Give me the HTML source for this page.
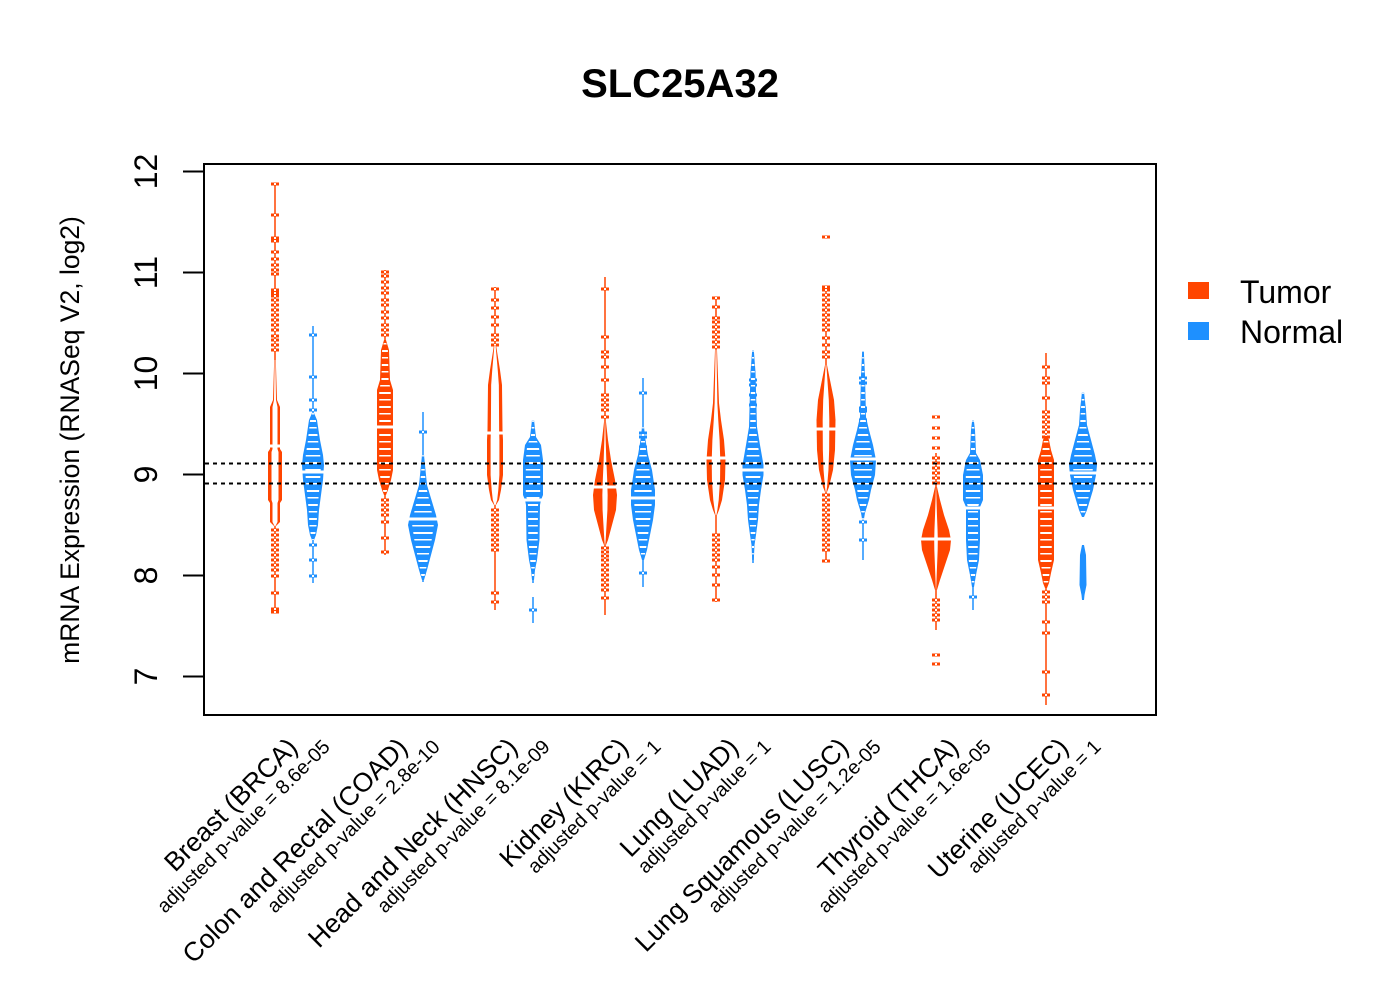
<!DOCTYPE html>
<html><head><meta charset="utf-8"><style>
html,body{margin:0;padding:0;background:#fff;}
svg{display:block;}
text{font-family:"Liberation Sans",Arial,sans-serif;fill:#000;}
</style></head><body>
<svg width="1400" height="1000" viewBox="0 0 1400 1000" xmlns="http://www.w3.org/2000/svg">
<defs>
<pattern id="st" patternUnits="userSpaceOnUse" width="40" height="14">
<rect y="0" width="40" height="2" fill="#fff"/><rect y="7" width="40" height="1.5" fill="#fff"/>
</pattern>
<g id="mo"><rect x="-4" y="-1.5" width="8" height="3" fill="#FF4500"/><rect x="-1" y="-1" width="2" height="2" fill="#fff"/></g>
<g id="mb"><rect x="-4" y="-1.5" width="8" height="3" fill="#1E90FF"/><rect x="-1" y="-1" width="2" height="2" fill="#fff"/></g>
<polygon id="p1" points="274.2,360 273,400 270,407 270,449 268,452 268,500 270,503 270,522 274,526 276,526 280,522 280,503 282,500 282,452 280,449 280,407 277,400 275.8,360"/>
<polygon id="p2" points="312,413 309,420 306,440 303,455 302,465 303,480 305,495 307,510 308,525 310,535 312,540 314,540 316,535 318,525 319,510 321,495 323,480 324,465 323,455 320,440 317,420 314,413"/>
<polygon id="p3" points="384,340 381,350 380,380 377,390 377,470 379,480 382,490 384,495 386,495 388,490 391,480 393,470 393,390 390,380 389,350 386,340"/>
<polygon id="p4" points="422,455 420.5,470 419,485 416,495 413,505 410,515 408,525 411,540 415,555 419,570 422,580 424,580 427,570 431,555 435,540 438,525 436,515 433,505 430,495 427,485 425.5,470 424,455"/>
<polygon id="p5" points="494,345 490,370 488,385 487.5,430 487,440 487,475 489,490 491,500 494,505 496,505 499,500 501,490 503,475 503,440 502.5,430 502,385 500,370 496,345"/>
<polygon id="p6" points="532,420 530,437 525,445 523,460 523,495 525,500 526,505 526.5,540 529,560 531,570 532,580 534,580 535,570 537,560 539.5,540 540,505 541,500 543,495 543,460 541,445 536,437 534,420"/>
<polygon id="p7" points="604,422 602,440 599,460 595,480 593,495 594,510 598,525 602,540 604,545 606,545 608,540 612,525 616,510 617,495 615,480 611,460 608,440 606,422"/>
<polygon id="p8" points="642,427 640.5,440 638,455 634,470 631,490 631,505 633,520 636,535 639,550 642,560 644,560 647,550 650,535 653,520 655,505 655,490 652,470 648,455 645.5,440 644,427"/>
<polygon id="p9" points="715,350 713,403 711,420 708,440 706.5,460 707,480 710,500 713,510 715,515 717,515 719,510 722,500 725,480 725.5,460 724,440 721,420 719,403 717,350"/>
<polygon id="p10" points="752.2,350 750.5,372 749,427 746,445 742.5,465 742.5,475 745,490 747,505 748,520 750,535 751.5,545 752.2,560 753.8,560 754.5,545 756,535 758,520 759,505 761,490 763.5,475 763.5,465 760,445 757,427 755.5,372 753.8,350"/>
<polygon id="p11" points="825,365 821,385 818,400 816.5,420 817,450 819,470 823,487 825,492 827,492 829,487 833,470 835,450 835.5,420 834,400 831,385 827,365"/>
<polygon id="p12" points="862.2,351 861,375 860,417 857,430 853,445 850,460 851,475 855,490 857,500 861,513 862.2,520 863.8,520 865,513 869,500 871,490 875,475 876,460 873,445 869,430 866,417 865,375 863.8,351"/>
<polygon id="p13" points="935,487 932,500 928,515 923,530 921,540 922,550 927,565 932,580 935,590 937,590 940,580 945,565 950,550 951,540 949,530 944,515 940,500 937,487"/>
<polygon id="p14" points="972.2,420 971,430 970,453 966,460 963,475 963,500 966,507 966,540 967,560 970,575 972,587 974,587 976,575 979,560 980,540 980,507 983,500 983,475 980,460 976,453 975,430 973.8,420"/>
<polygon id="p15" points="1045,435 1043,440 1041,450 1038,460 1038,560 1041,573 1043,583 1045,588 1047,588 1049,583 1051,573 1054,560 1054,460 1051,450 1049,440 1047,435"/>
<polygon id="p16" points="1082,392 1080,410 1079,425 1075,440 1071,455 1069,465 1070,475 1073,490 1076,500 1079,510 1082,517 1084,517 1087,510 1090,500 1093,490 1096,475 1097,465 1095,455 1091,440 1087,425 1086,410 1084,392"/>
<polygon id="p17" points="1082,545 1080,555 1079.5,585 1081.5,595 1082,600 1084,600 1084.5,595 1086.5,585 1086,555 1084,545"/>
<clipPath id="c2"><use href="#p2" transform="translate(313 0) scale(0.72 1) translate(-313 0)"/></clipPath>
<clipPath id="c3"><use href="#p3" transform="translate(385 0) scale(0.72 1) translate(-385 0)"/></clipPath>
<clipPath id="c4"><use href="#p4" transform="translate(423 0) scale(0.72 1) translate(-423 0)"/></clipPath>
<clipPath id="c6"><use href="#p6" transform="translate(533 0) scale(0.72 1) translate(-533 0)"/></clipPath>
<clipPath id="c8"><use href="#p8" transform="translate(643 0) scale(0.72 1) translate(-643 0)"/></clipPath>
<clipPath id="c10"><use href="#p10" transform="translate(753 0) scale(0.72 1) translate(-753 0)"/></clipPath>
<clipPath id="c12"><use href="#p12" transform="translate(863 0) scale(0.72 1) translate(-863 0)"/></clipPath>
<clipPath id="c14"><use href="#p14" transform="translate(973 0) scale(0.72 1) translate(-973 0)"/></clipPath>
<clipPath id="c15"><use href="#p15" transform="translate(1046 0) scale(0.72 1) translate(-1046 0)"/></clipPath>
<clipPath id="c16"><use href="#p16" transform="translate(1083 0) scale(0.72 1) translate(-1083 0)"/></clipPath>
</defs>

<rect x="0" y="0" width="1400" height="1000" fill="#fff"/>

<!-- tails -->
<g stroke-width="1.5">
<line x1="275" y1="184" x2="275" y2="612" stroke="#FF4500"/>
<line x1="313" y1="326" x2="313" y2="583" stroke="#1E90FF"/>
<line x1="385" y1="270" x2="385" y2="555" stroke="#FF4500"/>
<line x1="423" y1="412" x2="423" y2="582" stroke="#1E90FF"/>
<line x1="495" y1="287" x2="495" y2="610" stroke="#FF4500"/>
<line x1="533" y1="420" x2="533" y2="583" stroke="#1E90FF"/>
<line x1="533" y1="597" x2="533" y2="623" stroke="#1E90FF"/>
<line x1="605" y1="277" x2="605" y2="615" stroke="#FF4500"/>
<line x1="643" y1="378" x2="643" y2="587" stroke="#1E90FF"/>
<line x1="716" y1="298" x2="716" y2="602" stroke="#FF4500"/>
<line x1="753" y1="350" x2="753" y2="563" stroke="#1E90FF"/>
<line x1="826" y1="287" x2="826" y2="561" stroke="#FF4500"/>
<line x1="863" y1="351" x2="863" y2="560" stroke="#1E90FF"/>
<line x1="936" y1="453" x2="936" y2="630" stroke="#FF4500"/>
<line x1="973" y1="420" x2="973" y2="610" stroke="#1E90FF"/>
<line x1="1046" y1="353" x2="1046" y2="705" stroke="#FF4500"/>
<line x1="1083" y1="545" x2="1083" y2="600" stroke="#1E90FF"/>
</g>

<!-- marks -->
<g>
<use href="#mo" x="275" y="184"/><use href="#mo" x="275" y="215"/><use href="#mo" x="275" y="238"/><use href="#mo" x="275" y="241"/><use href="#mo" x="275" y="252"/><use href="#mo" x="275" y="259"/><use href="#mo" x="275" y="265"/><use href="#mo" x="275" y="270"/><use href="#mo" x="275" y="274"/><use href="#mo" x="275" y="290"/><use href="#mo" x="275" y="293"/><use href="#mo" x="275" y="296"/><use href="#mo" x="275" y="300"/><use href="#mo" x="275" y="305"/><use href="#mo" x="275" y="310"/><use href="#mo" x="275" y="315"/><use href="#mo" x="275" y="320"/><use href="#mo" x="275" y="325"/><use href="#mo" x="275" y="330"/><use href="#mo" x="275" y="336"/><use href="#mo" x="275" y="340"/><use href="#mo" x="275" y="345"/><use href="#mo" x="275" y="350"/>
<use href="#mo" x="275" y="530"/><use href="#mo" x="275" y="535"/><use href="#mo" x="275" y="540"/><use href="#mo" x="275" y="545"/><use href="#mo" x="275" y="550"/><use href="#mo" x="275" y="555"/><use href="#mo" x="275" y="560"/><use href="#mo" x="275" y="565"/><use href="#mo" x="275" y="570"/><use href="#mo" x="275" y="576"/><use href="#mo" x="275" y="593"/><use href="#mo" x="275" y="609"/><use href="#mo" x="275" y="612"/>

<use href="#mb" x="313" y="335"/><use href="#mb" x="313" y="377"/><use href="#mb" x="313" y="400"/><use href="#mb" x="313" y="410"/><use href="#mb" x="313" y="545"/><use href="#mb" x="313" y="560"/><use href="#mb" x="313" y="576"/>

<use href="#mo" x="385" y="272"/><use href="#mo" x="385" y="276"/><use href="#mo" x="385" y="282"/><use href="#mo" x="385" y="288"/><use href="#mo" x="385" y="293"/><use href="#mo" x="385" y="300"/><use href="#mo" x="385" y="305"/><use href="#mo" x="385" y="312"/><use href="#mo" x="385" y="318"/><use href="#mo" x="385" y="325"/><use href="#mo" x="385" y="330"/><use href="#mo" x="385" y="335"/><use href="#mo" x="385" y="500"/><use href="#mo" x="385" y="505"/><use href="#mo" x="385" y="510"/><use href="#mo" x="385" y="515"/><use href="#mo" x="385" y="522"/><use href="#mo" x="385" y="538"/><use href="#mo" x="385" y="552"/>

<use href="#mb" x="423" y="432"/>

<use href="#mo" x="495" y="289"/><use href="#mo" x="495" y="300"/><use href="#mo" x="495" y="308"/><use href="#mo" x="495" y="317"/><use href="#mo" x="495" y="325"/><use href="#mo" x="495" y="335"/><use href="#mo" x="495" y="340"/><use href="#mo" x="495" y="345"/><use href="#mo" x="495" y="510"/><use href="#mo" x="495" y="515"/><use href="#mo" x="495" y="520"/><use href="#mo" x="495" y="525"/><use href="#mo" x="495" y="530"/><use href="#mo" x="495" y="535"/><use href="#mo" x="495" y="540"/><use href="#mo" x="495" y="545"/><use href="#mo" x="495" y="550"/><use href="#mo" x="495" y="593"/><use href="#mo" x="495" y="602"/>

<use href="#mb" x="533" y="610"/>

<use href="#mo" x="605" y="289"/><use href="#mo" x="605" y="337"/><use href="#mo" x="605" y="352"/><use href="#mo" x="605" y="357"/><use href="#mo" x="605" y="367"/><use href="#mo" x="605" y="380"/><use href="#mo" x="605" y="395"/><use href="#mo" x="605" y="400"/><use href="#mo" x="605" y="405"/><use href="#mo" x="605" y="410"/><use href="#mo" x="605" y="417"/><use href="#mo" x="605" y="548"/><use href="#mo" x="605" y="552"/><use href="#mo" x="605" y="556"/><use href="#mo" x="605" y="560"/><use href="#mo" x="605" y="565"/><use href="#mo" x="605" y="570"/><use href="#mo" x="605" y="575"/><use href="#mo" x="605" y="580"/><use href="#mo" x="605" y="585"/><use href="#mo" x="605" y="590"/><use href="#mo" x="605" y="598"/>

<use href="#mb" x="643" y="393"/><use href="#mb" x="643" y="433"/><use href="#mb" x="643" y="437"/><use href="#mb" x="643" y="447"/><use href="#mb" x="643" y="573"/>

<use href="#mo" x="716" y="298"/><use href="#mo" x="716" y="307"/><use href="#mo" x="716" y="318"/><use href="#mo" x="716" y="322"/><use href="#mo" x="716" y="327"/><use href="#mo" x="716" y="332"/><use href="#mo" x="716" y="337"/><use href="#mo" x="716" y="342"/><use href="#mo" x="716" y="347"/><use href="#mo" x="716" y="535"/><use href="#mo" x="716" y="540"/><use href="#mo" x="716" y="545"/><use href="#mo" x="716" y="550"/><use href="#mo" x="716" y="555"/><use href="#mo" x="716" y="560"/><use href="#mo" x="716" y="567"/><use href="#mo" x="716" y="575"/><use href="#mo" x="716" y="585"/><use href="#mo" x="716" y="600"/>

<use href="#mb" x="753" y="380"/><use href="#mb" x="753" y="385"/><use href="#mb" x="753" y="395"/><use href="#mb" x="753" y="405"/>

<use href="#mo" x="826" y="237"/><use href="#mo" x="826" y="287"/><use href="#mo" x="826" y="290"/><use href="#mo" x="826" y="295"/><use href="#mo" x="826" y="300"/><use href="#mo" x="826" y="305"/><use href="#mo" x="826" y="310"/><use href="#mo" x="826" y="315"/><use href="#mo" x="826" y="320"/><use href="#mo" x="826" y="325"/><use href="#mo" x="826" y="330"/><use href="#mo" x="826" y="338"/><use href="#mo" x="826" y="345"/><use href="#mo" x="826" y="352"/><use href="#mo" x="826" y="357"/><use href="#mo" x="826" y="495"/><use href="#mo" x="826" y="500"/><use href="#mo" x="826" y="505"/><use href="#mo" x="826" y="510"/><use href="#mo" x="826" y="515"/><use href="#mo" x="826" y="520"/><use href="#mo" x="826" y="525"/><use href="#mo" x="826" y="530"/><use href="#mo" x="826" y="535"/><use href="#mo" x="826" y="540"/><use href="#mo" x="826" y="545"/><use href="#mo" x="826" y="550"/><use href="#mo" x="826" y="561"/>

<use href="#mb" x="863" y="378"/><use href="#mb" x="863" y="383"/><use href="#mb" x="863" y="408"/><use href="#mb" x="863" y="411"/><use href="#mb" x="863" y="420"/><use href="#mb" x="863" y="522"/><use href="#mb" x="863" y="540"/>

<use href="#mo" x="936" y="417"/><use href="#mo" x="936" y="428"/><use href="#mo" x="936" y="438"/><use href="#mo" x="936" y="448"/><use href="#mo" x="936" y="458"/><use href="#mo" x="936" y="463"/><use href="#mo" x="936" y="468"/><use href="#mo" x="936" y="473"/><use href="#mo" x="936" y="478"/><use href="#mo" x="936" y="483"/><use href="#mo" x="936" y="600"/><use href="#mo" x="936" y="605"/><use href="#mo" x="936" y="610"/><use href="#mo" x="936" y="615"/><use href="#mo" x="936" y="620"/><use href="#mo" x="936" y="655"/><use href="#mo" x="936" y="664"/>

<use href="#mb" x="973" y="597"/>

<use href="#mo" x="1046" y="367"/><use href="#mo" x="1046" y="378"/><use href="#mo" x="1046" y="383"/><use href="#mo" x="1046" y="398"/><use href="#mo" x="1046" y="412"/><use href="#mo" x="1046" y="417"/><use href="#mo" x="1046" y="422"/><use href="#mo" x="1046" y="427"/><use href="#mo" x="1046" y="432"/><use href="#mo" x="1046" y="437"/><use href="#mo" x="1046" y="592"/><use href="#mo" x="1046" y="597"/><use href="#mo" x="1046" y="602"/><use href="#mo" x="1046" y="622"/><use href="#mo" x="1046" y="633"/><use href="#mo" x="1046" y="672"/><use href="#mo" x="1046" y="695"/>
</g>

<!-- beans -->
<g>
<use href="#p1" fill="#FF4500"/><use href="#p1" fill="#fff" transform="translate(275 0) scale(0.5 1) translate(-275 0)"/>
<use href="#p2" fill="#1E90FF"/><rect x="290" y="405" width="46" height="140" fill="url(#st)" clip-path="url(#c2)"/>
<use href="#p3" fill="#FF4500"/><rect x="365" y="335" width="40" height="165" fill="url(#st)" clip-path="url(#c3)"/>
<use href="#p4" fill="#1E90FF"/><rect x="400" y="450" width="46" height="135" fill="url(#st)" clip-path="url(#c4)"/>
<use href="#p5" fill="#FF4500"/><use href="#p5" fill="#fff" transform="translate(495 0) scale(0.55 1) translate(-495 0)"/>
<use href="#p6" fill="#1E90FF"/><rect x="515" y="415" width="40" height="170" fill="url(#st)" clip-path="url(#c6)"/>
<use href="#p7" fill="#FF4500"/><use href="#p7" fill="#fff" transform="translate(605 0) scale(0.22 1) translate(-605 0)"/>
<use href="#p8" fill="#1E90FF"/><rect x="625" y="420" width="40" height="145" fill="url(#st)" clip-path="url(#c8)"/>
<use href="#p9" fill="#FF4500"/><use href="#p9" fill="#fff" transform="translate(716 0) scale(0.45 1) translate(-716 0)"/>
<use href="#p10" fill="#1E90FF"/><rect x="735" y="345" width="40" height="220" fill="url(#st)" clip-path="url(#c10)"/>
<use href="#p11" fill="#FF4500"/><use href="#p11" fill="#fff" transform="translate(826 0) scale(0.35 1) translate(-826 0)"/>
<use href="#p12" fill="#1E90FF"/><rect x="845" y="345" width="40" height="180" fill="url(#st)" clip-path="url(#c12)"/>
<use href="#p13" fill="#FF4500"/><use href="#p13" fill="#fff" transform="translate(936 0) scale(0.12 1) translate(-936 0)"/>
<use href="#p14" fill="#1E90FF"/><rect x="955" y="415" width="40" height="180" fill="url(#st)" clip-path="url(#c14)"/>
<use href="#p15" fill="#FF4500"/><rect x="1030" y="430" width="35" height="165" fill="url(#st)" clip-path="url(#c15)"/>
<use href="#p16" fill="#1E90FF"/><rect x="1065" y="385" width="40" height="140" fill="url(#st)" clip-path="url(#c16)"/>
<use href="#p17" fill="#1E90FF"/>
</g>

<!-- medians -->
<g fill="#fff">
<rect x="266" y="444.5" width="18" height="3"/>
<rect x="300" y="470.5" width="26" height="3"/>
<rect x="375" y="425.5" width="20" height="3"/>
<rect x="407" y="517.5" width="32" height="3"/>
<rect x="485" y="431.5" width="20" height="3"/>
<rect x="521" y="498.5" width="24" height="3"/>
<rect x="591" y="485.5" width="28" height="3"/>
<rect x="629" y="496.5" width="28" height="3"/>
<rect x="705" y="456.5" width="22" height="3"/>
<rect x="741" y="468.5" width="24" height="3"/>
<rect x="815" y="427.5" width="22" height="3"/>
<rect x="848" y="457.5" width="30" height="3"/>
<rect x="919" y="537.5" width="34" height="3"/>
<rect x="961" y="506.5" width="24" height="3"/>
<rect x="1036" y="506.5" width="20" height="3"/>
<rect x="1068" y="471.5" width="30" height="3"/>
</g>

<!-- dashed reference lines -->
<g stroke="#000" stroke-width="2" stroke-dasharray="4 4">
<line x1="205" y1="463.5" x2="1155" y2="463.5"/>
<line x1="205" y1="483.5" x2="1155" y2="483.5"/>
</g>

<!-- box -->
<rect x="204" y="164" width="952" height="551" fill="none" stroke="#000" stroke-width="2"/>

<!-- y axis ticks -->
<g stroke="#000" stroke-width="2">
<line x1="183" y1="171.5" x2="204" y2="171.5"/>
<line x1="183" y1="272.5" x2="204" y2="272.5"/>
<line x1="183" y1="373.5" x2="204" y2="373.5"/>
<line x1="183" y1="474.5" x2="204" y2="474.5"/>
<line x1="183" y1="575.5" x2="204" y2="575.5"/>
<line x1="183" y1="676.5" x2="204" y2="676.5"/>
</g>
<g font-size="32" text-anchor="middle">
<text x="157" y="171.5" transform="rotate(-90 157 171.5)">12</text>
<text x="157" y="272.5" transform="rotate(-90 157 272.5)">11</text>
<text x="157" y="373.5" transform="rotate(-90 157 373.5)">10</text>
<text x="157" y="474.5" transform="rotate(-90 157 474.5)">9</text>
<text x="157" y="575.5" transform="rotate(-90 157 575.5)">8</text>
<text x="157" y="676.5" transform="rotate(-90 157 676.5)">7</text>
</g>

<text x="79" y="440" font-size="26.5" text-anchor="middle" transform="rotate(-90 79 440)">mRNA Expression (RNASeq V2, log2)</text>

<text x="680" y="97" font-size="40" font-weight="bold" text-anchor="middle">SLC25A32</text>

<!-- legend -->
<rect x="1188" y="282" width="21" height="17" fill="#FF4500"/>
<rect x="1188" y="322" width="21" height="18" fill="#1E90FF"/>
<text x="1240" y="303" font-size="32">Tumor</text>
<text x="1240" y="343" font-size="32">Normal</text>

<!-- x labels -->
<g text-anchor="end">
<text x="299" y="749" font-size="26.5" transform="rotate(-45 299 749)">Breast (BRCA)</text>
<text x="331" y="748" font-size="19.8" transform="rotate(-45 331 748)">adjusted p-value = 8.6e-05</text>
<text x="409" y="749" font-size="26.5" transform="rotate(-45 409 749)">Colon and Rectal (COAD)</text>
<text x="441" y="748" font-size="19.8" transform="rotate(-45 441 748)">adjusted p-value = 2.8e-10</text>
<text x="519" y="749" font-size="26.5" transform="rotate(-45 519 749)">Head and Neck (HNSC)</text>
<text x="551" y="748" font-size="19.8" transform="rotate(-45 551 748)">adjusted p-value = 8.1e-09</text>
<text x="630" y="749" font-size="26.5" transform="rotate(-45 630 749)">Kidney (KIRC)</text>
<text x="662" y="748" font-size="19.8" transform="rotate(-45 662 748)">adjusted p-value = 1</text>
<text x="740" y="749" font-size="26.5" transform="rotate(-45 740 749)">Lung (LUAD)</text>
<text x="772" y="748" font-size="19.8" transform="rotate(-45 772 748)">adjusted p-value = 1</text>
<text x="850" y="749" font-size="26.5" transform="rotate(-45 850 749)">Lung Squamous (LUSC)</text>
<text x="882" y="748" font-size="19.8" transform="rotate(-45 882 748)">adjusted p-value = 1.2e-05</text>
<text x="960" y="749" font-size="26.5" transform="rotate(-45 960 749)">Thyroid (THCA)</text>
<text x="992" y="748" font-size="19.8" transform="rotate(-45 992 748)">adjusted p-value = 1.6e-05</text>
<text x="1070" y="749" font-size="26.5" transform="rotate(-45 1070 749)">Uterine (UCEC)</text>
<text x="1102" y="748" font-size="19.8" transform="rotate(-45 1102 748)">adjusted p-value = 1</text>
</g>
</svg>
</body></html>
